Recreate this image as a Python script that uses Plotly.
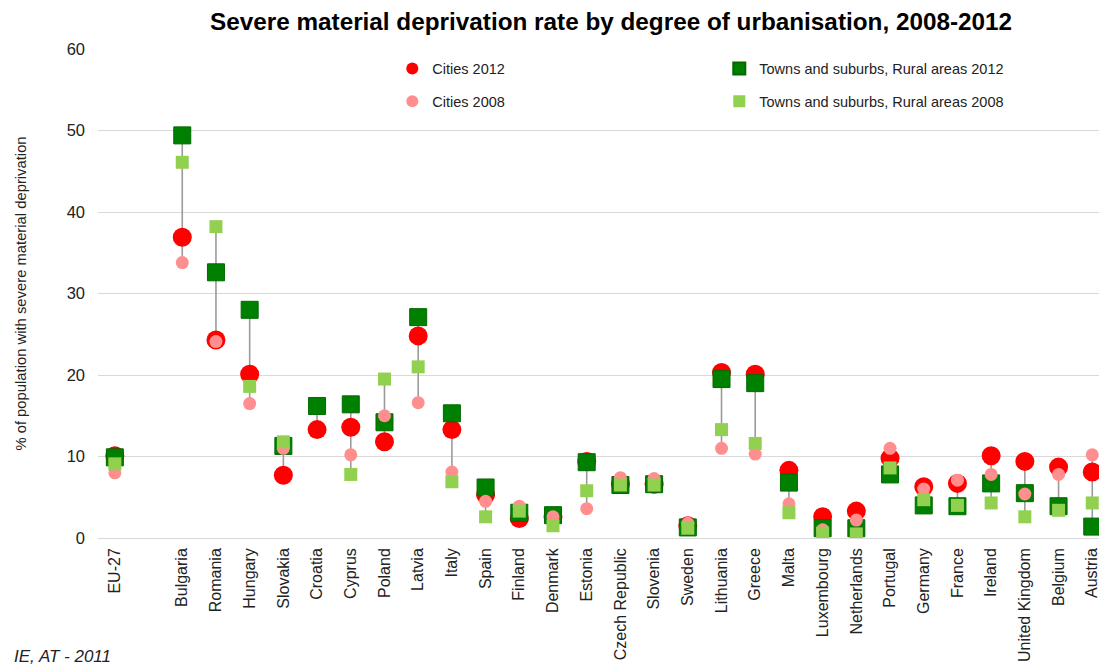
import plotly.graph_objects as go

# Countries (a blank slot separates the EU aggregate from the member states)
categories = ["EU-27", " ", "Bulgaria", "Romania", "Hungary", "Slovakia", "Croatia",
              "Cyprus", "Poland", "Latvia", "Italy", "Spain", "Finland", "Denmark",
              "Estonia", "Czech Republic", "Slovenia", "Sweden", "Lithuania", "Greece",
              "Malta", "Luxembourg", "Netherlands", "Portugal", "Germany", "France",
              "Ireland", "United Kingdom", "Belgium", "Austria"]

# Severe material deprivation rate (%)
cities_2012 = [10.1, None, 36.9, 24.3, 20.1, 7.7, 13.3, 13.6, 11.8, 24.8, 13.3, 5.3, 2.4, 2.6,
               9.4, 6.6, 6.6, 1.5, 20.3, 20.1, 8.3, 2.6, 3.3, 9.8, 6.3, 6.7, 10.1, 9.4, 8.7, 8.1]
towns_2012 = [9.9, None, 49.4, 32.6, 28.0, 11.3, 16.2, 16.4, 14.2, 27.1, 15.3, 6.2, 3.1, 2.8,
              9.3, 6.5, 6.6, 1.3, 19.5, 19.0, 6.8, 1.2, 1.2, 7.8, 4.0, 3.9, 6.7, 5.5, 3.9, 1.4]
cities_2008 = [8.0, None, 33.8, 24.1, 16.5, 11.0, None, 10.2, 15.0, 16.6, 8.1, 4.5, 3.9, 2.6,
               3.6, 7.4, 7.3, 1.8, 11.0, 10.3, 4.2, 1.0, 2.2, 11.0, 6.0, 7.1, 7.8, 5.4, 7.8, 10.2]
towns_2008 = [9.1, None, 46.1, 38.2, 18.6, 11.8, None, 7.8, 19.5, 21.0, 6.9, 2.6, 3.3, 1.5,
              5.8, 6.5, 6.5, 1.2, 13.3, 11.6, 3.1, 0.6, 0.5, 8.6, 4.7, 4.0, 4.3, 2.6, 3.4, 4.3]

FONT = "Liberation Sans, Arial, sans-serif"

# High-low connectors spanning all four values of each country
hl_x, hl_y = [], []
for i, cat in enumerate(categories):
    vals = [s[i] for s in (cities_2012, towns_2012, cities_2008, towns_2008) if s[i] is not None]
    if vals:
        hl_x += [cat, cat, None]
        hl_y += [min(vals), max(vals), None]

fig = go.Figure()
fig.add_trace(go.Scatter(x=hl_x, y=hl_y, mode="lines",
                         line=dict(color="#9a9a9a", width=1.6),
                         showlegend=False, hoverinfo="skip"))

fig.add_trace(go.Scatter(x=categories, y=cities_2012, mode="markers", name="Cities 2012",
                         marker=dict(symbol="circle", size=19, color="#ff0000"),
                         legend="legend"))
fig.add_trace(go.Scatter(x=categories, y=towns_2012, mode="markers",
                         name="Towns and suburbs, Rural areas 2012",
                         marker=dict(symbol="square", size=17, color="#008000",
                                     line=dict(color="#006a00", width=1)),
                         legend="legend"))
fig.add_trace(go.Scatter(x=categories, y=cities_2008, mode="markers", name="Cities 2008",
                         marker=dict(symbol="circle", size=13, color="#ff8f8f"),
                         legend="legend2"))
fig.add_trace(go.Scatter(x=categories, y=towns_2008, mode="markers",
                         name="Towns and suburbs, Rural areas 2008",
                         marker=dict(symbol="square", size=13, color="#92d050"),
                         legend="legend2"))

legend_common = dict(orientation="h", xanchor="left", yanchor="middle",
                     font=dict(family=FONT, size=14.5, color="#222222"),
                     bgcolor="rgba(0,0,0,0)", entrywidth=282, entrywidthmode="pixels",
                     itemsizing="constant", itemwidth=30,
                     itemclick=False, itemdoubleclick=False)

fig.update_layout(
    width=1099, height=666,
    margin=dict(l=98, r=0, t=49, b=128),
    paper_bgcolor="white", plot_bgcolor="white",
    title=dict(text="<b>Severe material deprivation rate by degree of urbanisation, 2008-2012</b>",
               x=0.556, xanchor="center", y=0.967, yanchor="middle",
               font=dict(family=FONT, size=24.3, color="#000000")),
    xaxis=dict(type="category", categoryorder="array", categoryarray=categories,
               range=[-0.5, 29.2], tickangle=-90, showgrid=False, zeroline=False,
               ticks="", showline=False, ticklabelstandoff=6,
               tickfont=dict(family=FONT, size=16, color="#222222")),
    yaxis=dict(range=[0, 60], dtick=10, showgrid=True, gridcolor="#d9d9d9", gridwidth=1.2,
               zeroline=True, zerolinecolor="#d9d9d9", zerolinewidth=1.2,
               ticks="", ticklabelstandoff=12,
               tickfont=dict(family=FONT, size=16.5, color="#222222"),
               title=dict(text="% of population with severe material deprivation",
                          font=dict(family=FONT, size=14.8, color="#222222"), standoff=36)),
    legend=dict(x=0.294, y=0.96, **legend_common),
    legend2=dict(x=0.294, y=0.893, **legend_common),
    annotations=[dict(text="<i>IE, AT - 2011</i>", xref="paper", yref="paper",
                      x=-0.086, y=-0.243, xanchor="left", yanchor="middle", showarrow=False,
                      font=dict(family=FONT, size=17, color="#222222"))],
)

fig.write_html("out.html")
